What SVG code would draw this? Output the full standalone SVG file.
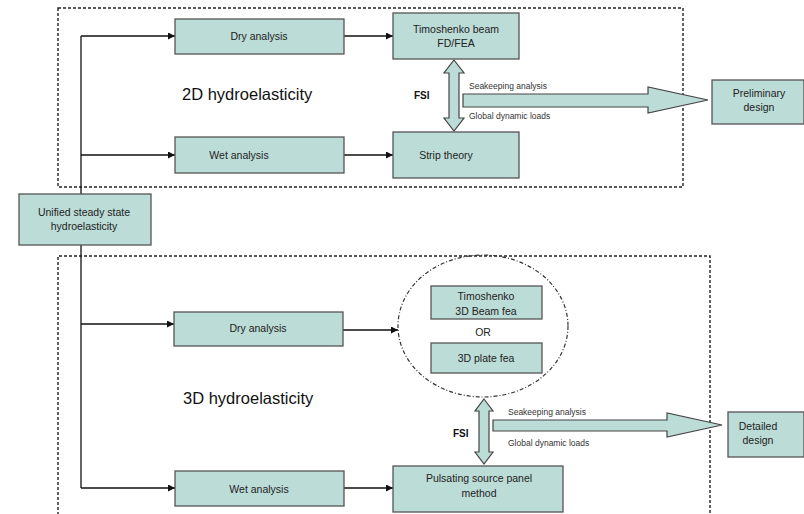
<svg xmlns="http://www.w3.org/2000/svg" width="804" height="514" viewBox="0 0 804 514">
<defs>
<marker id="ah" markerWidth="8" markerHeight="8" refX="7" refY="3.5" orient="auto" markerUnits="userSpaceOnUse">
<path d="M0,0 L7,3.5 L0,7 Z" fill="#111"/>
</marker>
<style>
.box{fill:#bcdcd7;stroke:#555;stroke-width:1.3}
.t{font-family:"Liberation Sans",Arial,sans-serif;font-size:10.5px;fill:#222;text-anchor:middle}
.s{font-family:"Liberation Sans",Arial,sans-serif;font-size:8.5px;fill:#333}
.big{font-family:"Liberation Sans",Arial,sans-serif;font-size:16.5px;fill:#111}
.fsi{font-family:"Liberation Sans",Arial,sans-serif;font-size:10px;font-weight:bold;fill:#111}
.dash{fill:none;stroke:#222;stroke-width:1.4;stroke-dasharray:3,2}
.ln{fill:none;stroke:#111;stroke-width:1.3}
.arr{fill:#bcdcd7;stroke:#444;stroke-width:1.2}
</style>
</defs>
<rect class="dash" x="58" y="8" width="625" height="179"/>
<path class="dash" d="M58,520 V256 H710 V520"/>
<text class="big" x="182" y="100">2D hydroelasticity</text>
<text class="big" x="183" y="404">3D hydroelasticity</text>
<g id="connectors">
<path class="ln" d="M81,36 V488"/>
<path class="ln" d="M81,36 H175" marker-end="url(#ah)"/>
<path class="ln" d="M81,155 H175" marker-end="url(#ah)"/>
<path class="ln" d="M81,324 H174" marker-end="url(#ah)"/>
<path class="ln" d="M81,488 H175" marker-end="url(#ah)"/>
<path class="ln" d="M344,36 H393" marker-end="url(#ah)"/>
<path class="ln" d="M344,155 H393" marker-end="url(#ah)"/>
<path class="ln" d="M343,330 H398" marker-end="url(#ah)"/>
<path class="ln" d="M344,488 H393" marker-end="url(#ah)"/>
<polygon class="arr" points="454,60 464,73 459,73 459,118 464,118 454,131 444,118 449,118 449,73 444,73"/>
<polygon class="arr" points="463,94 648,94 648,87 708,100 648,113 648,107 463,107"/>
<polygon class="arr" points="484,399 493,411 489,411 489,452 493,452 484,464 475,452 479,452 479,411 475,411"/>
<polygon class="arr" points="493,420 667,420 667,413 722,425 667,437 667,431 493,431"/>
<text class="fsi" x="414" y="99">FSI</text>
<text class="s" x="469" y="89">Seakeeping analysis</text>
<text class="s" x="469" y="119">Global dynamic loads</text>
<text class="fsi" x="453" y="437">FSI</text>
<text class="s" x="508" y="415">Seakeeping analysis</text>
<text class="s" x="508" y="446">Global dynamic loads</text>
</g>
<g id="unified"><rect class="box" x="19" y="194" width="132" height="51"/><text class="t" x="84" y="216">Unified steady state</text><text class="t" x="84" y="230">hydroelasticity</text></g>
<g id="dry2d"><rect class="box" x="175" y="19" width="169" height="35"/><text class="t" x="259" y="40">Dry analysis</text></g>
<g id="wet2d"><rect class="box" x="175" y="137" width="169" height="36"/><text class="t" x="239" y="159">Wet analysis</text></g>
<g id="timo2d"><rect class="box" x="393" y="13" width="126" height="46"/><text class="t" x="456" y="33">Timoshenko beam</text><text class="t" x="456" y="47">FD/FEA</text></g>
<g id="strip"><rect class="box" x="393" y="132" width="126" height="46"/><text class="t" x="446" y="159">Strip theory</text></g>
<g id="prelim"><rect class="box" x="712" y="80" width="92" height="44"/><text class="t" x="759" y="97">Preliminary</text><text class="t" x="759" y="111">design</text></g>
<g id="dry3d"><rect class="box" x="174" y="312" width="169" height="34"/><text class="t" x="258" y="332">Dry analysis</text></g>
<g id="wet3d"><rect class="box" x="175" y="471" width="169" height="35"/><text class="t" x="259" y="493">Wet analysis</text></g>
<g id="structure3d">
<ellipse cx="483" cy="326" rx="85" ry="71" fill="none" stroke="#333" stroke-width="1.2" stroke-dasharray="4,2,1,2"/>
<rect class="box" x="431" y="286" width="111" height="33"/><text class="t" x="486" y="300">Timoshenko</text><text class="t" x="486" y="315">3D Beam fea</text>
<text class="t" x="483" y="336">OR</text>
<rect class="box" x="431" y="343" width="111" height="30"/><text class="t" x="486" y="362">3D plate fea</text>
</g>
<g id="pulsating"><rect class="box" x="393" y="466" width="170" height="46"/><text class="t" x="479" y="482">Pulsating source panel</text><text class="t" x="479" y="497">method</text></g>
<g id="detailed"><rect class="box" x="728" y="412" width="76" height="45"/><text class="t" x="758" y="430">Detailed</text><text class="t" x="758" y="444">design</text></g>
</svg>
